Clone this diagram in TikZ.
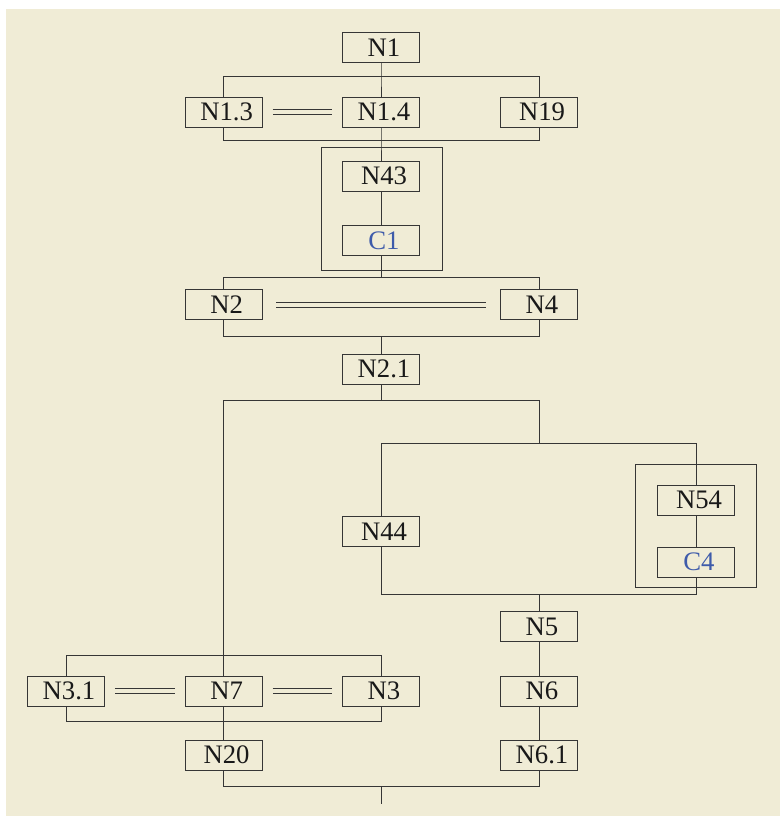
\documentclass[tikz,border=0pt]{standalone}
\usepackage{fontspec}
\setmainfont{Liberation Serif}
\usetikzlibrary{fit}
\definecolor{sfcback}{HTML}{F0ECD6}
\definecolor{sfcline}{HTML}{363636}
\definecolor{sfcblue}{HTML}{3E5BAA}

\begin{document}
\begin{tikzpicture}[
        line width=0.7pt, draw=sfcline,
        b/.style={draw=sfcline, fill=sfcback, minimum width=1.925cm, minimum height=0.75cm, inner sep=0pt, text=black!90, font=\fontsize{19}{20}\selectfont, execute at begin node=\hspace*{0.15cm}},
        c/.style={b, text=sfcblue},
        grp/.style={draw=sfcline, inner sep=0pt},
        eq/.style={draw=sfcline, double=sfcback, double distance=3.2pt, shorten <=0.25cm, shorten >=0.25cm}]
      \useasboundingbox (0,0) rectangle (19.5,-20.4);
      \fill[sfcback] (0.15,-0.225) rectangle (19.5,-20.4);
      % steps
      \node[b] (n1) at (9.525,-1.19) {N1};
      \node[b] (n13) at (5.59,-2.8) {N1.3};
      \node[b] (n14) at (9.525,-2.8) {N1.4};
      \node[b] (n19) at (13.475,-2.8) {N19};
      \node[b] (n43) at (9.525,-4.4) {N43};
      \node[c] (c1) at (9.525,-6.01) {C1};
      \node[grp, fit={(8.04,-3.69) (11.07,-6.77)}] (g1) {};
      \node[b] (n2) at (5.59,-7.62) {N2};
      \node[b] (n4) at (13.475,-7.62) {N4};
      \node[b] (n21) at (9.525,-9.225) {N2.1};
      \node[b] (n54) at (17.4,-12.5) {N54};
      \node[c] (c4) at (17.4,-14.05) {C4};
      \node[grp, fit={(15.89,-11.6) (18.92,-14.675)}] (g2) {};
      \node[b] (n44) at (9.525,-13.29) {N44};
      \node[b] (n5) at (13.475,-15.66) {N5};
      \node[b] (n6) at (13.475,-17.275) {N6};
      \node[b] (n61) at (13.475,-18.875) {N6.1};
      \node[b] (n31) at (1.65,-17.275) {N3.1};
      \node[b] (n7) at (5.59,-17.275) {N7};
      \node[b] (n3) at (9.525,-17.275) {N3};
      \node[b] (n20) at (5.59,-18.875) {N20};
      % bars
      \coordinate (s1) at (9.525,-1.92);
      \coordinate (j1) at (9.525,-3.505);
      \coordinate (s2) at (9.525,-6.93);
      \coordinate (j2) at (9.525,-8.42);
      \coordinate (s3) at (9.525,-10.02);
      \coordinate (s4) at (13.475,-11.08);
      \coordinate (j4) at (13.475,-14.855);
      \coordinate (s5) at (5.59,-16.39);
      \coordinate (j5) at (5.59,-18.04);
      \coordinate (j6) at (9.525,-19.65);
      \coordinate (out) at (9.525,-20.1);
      % links
      \draw (n1) -- (s1) -- (n14);
      \draw (n13) |- (s1) -| (n19);
      \draw (n13) |- (j1) -| (n19);
      \draw (n14) -- (j1) -- (n43) -- (c1) -- (s2);
      \draw (n2) |- (s2) -| (n4);
      \draw (n2) |- (j2) -| (n4);
      \draw (j2) -- (n21) -- (s3);
      \draw (n7) |- (s3) -| (s4);
      \draw (n44) |- (s4) -| (n54);
      \draw (n54) -- (c4);
      \draw (n44) |- (j4) -| (c4);
      \draw (j4) -- (n5) -- (n6) -- (n61);
      \draw (n31) |- (s5) -| (n3);
      \draw (n31) |- (j5) -| (n3);
      \draw (n7) -- (n20);
      \draw (n20) |- (j6) -| (n61);
      \draw (j6) -- (out);
      % parallel marks
      \draw[eq] (n13) -- (n14);
      \draw[eq, shorten <=0.34cm, shorten >=0.36cm] (n2) -- (n4);
      \draw[eq] (n31) -- (n7);
      \draw[eq] (n7) -- (n3);
\end{tikzpicture}
\end{document}
